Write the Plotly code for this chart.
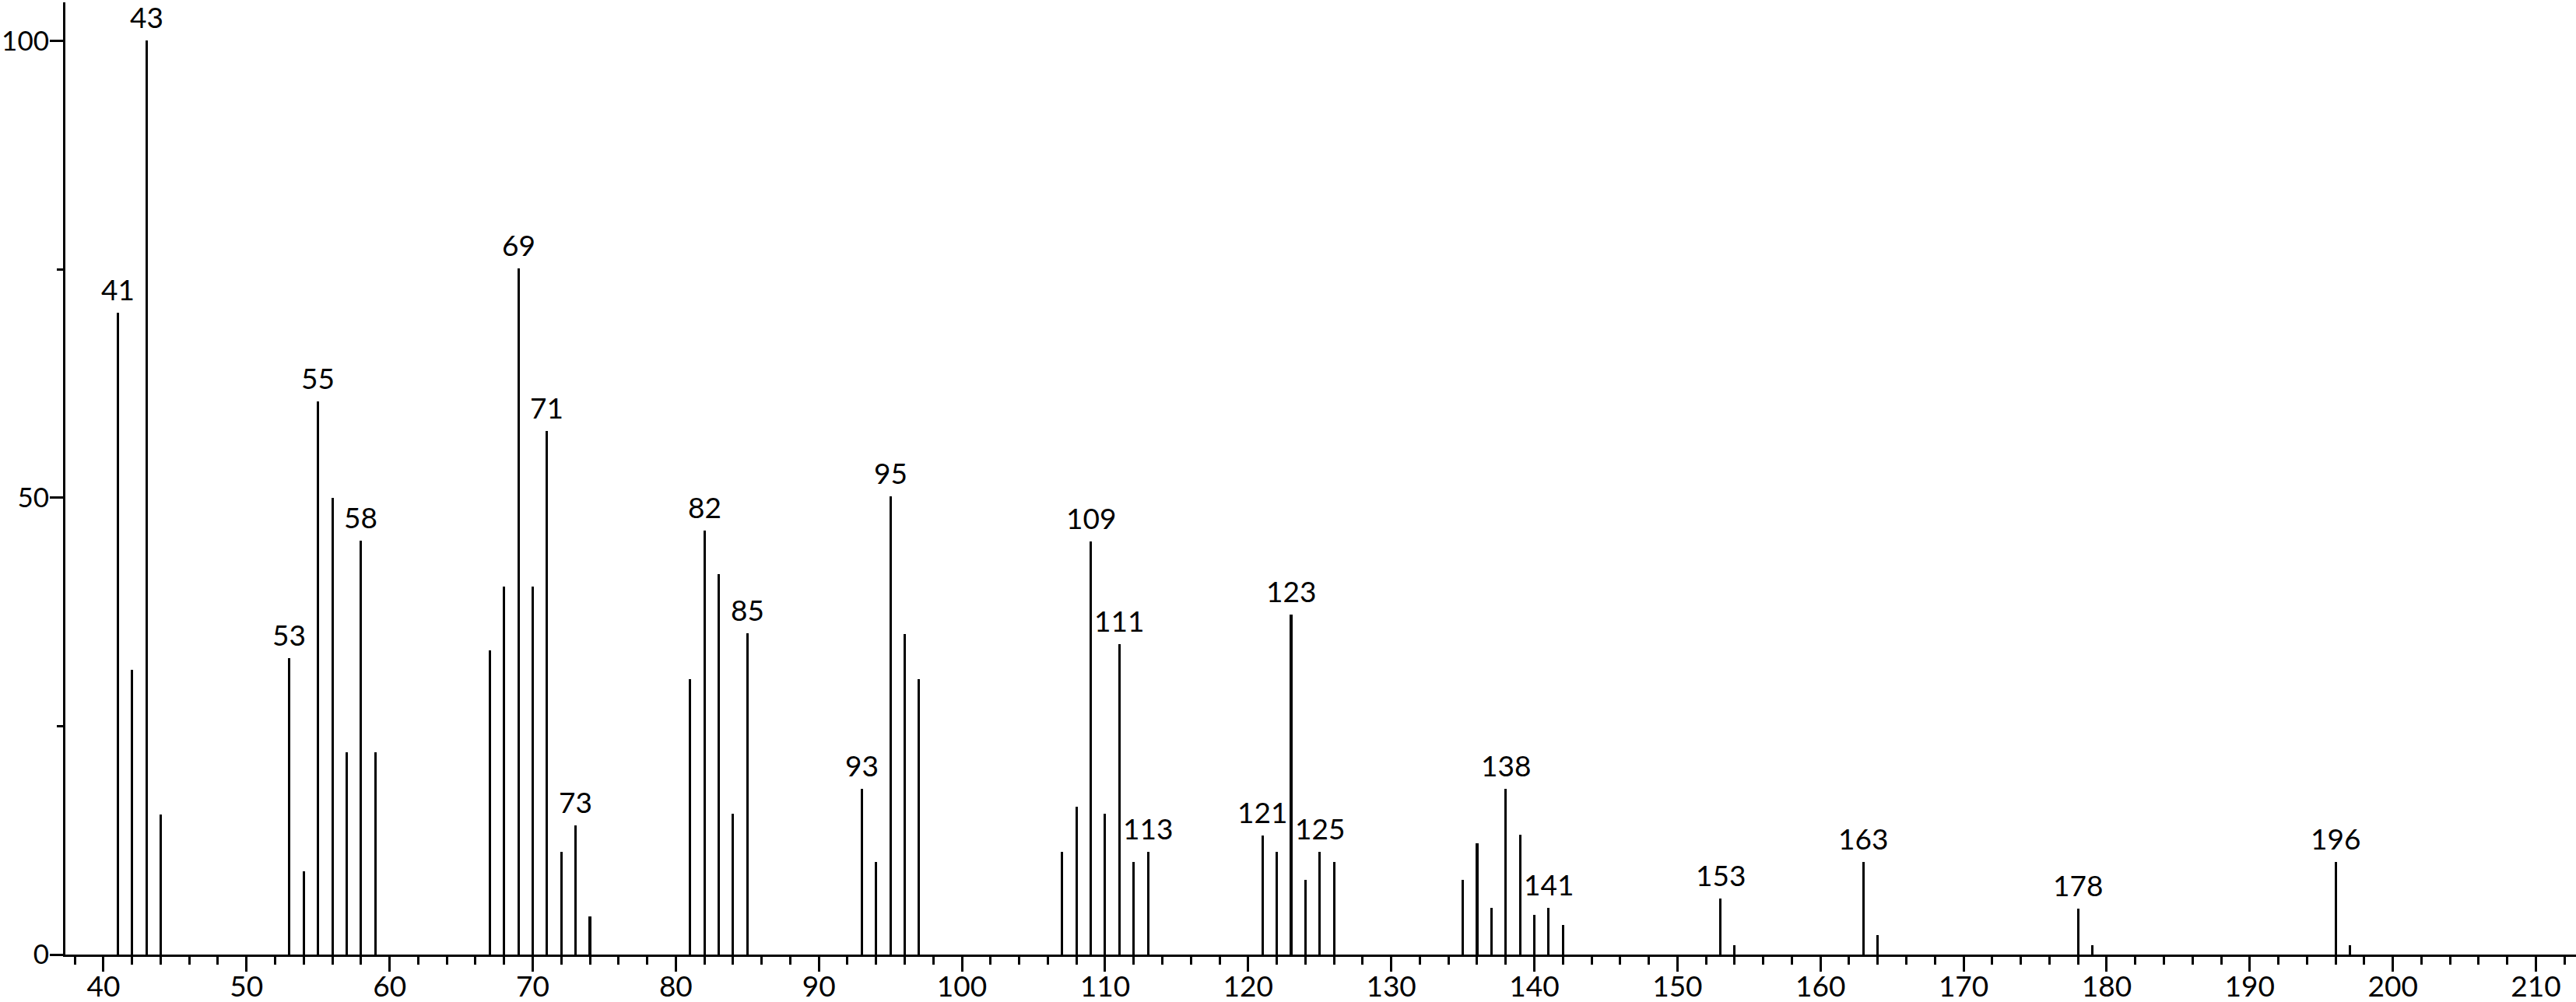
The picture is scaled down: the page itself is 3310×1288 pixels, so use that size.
import plotly.graph_objects as go

mz = [41, 42, 43, 44, 53, 54, 55, 56, 57, 58, 59,
      67, 68, 69, 70, 71, 72, 73, 74,
      81, 82, 83, 84, 85,
      93, 94, 95, 96, 97,
      107, 108, 109, 110, 111, 112, 113,
      121, 122, 123, 124, 125, 126,
      135, 136, 137, 138, 139, 140, 141, 142,
      153, 154, 163, 164, 178, 179, 196, 197]
intensity = [70.2, 31.2, 100, 15.3, 32.4, 9.1, 60.5, 50, 22.1, 45.3, 22.1,
             33.3, 40.3, 75.1, 40.3, 57.3, 11.2, 14.1, 4.2,
             30.1, 46.4, 41.6, 15.4, 35.2,
             18.1, 10.1, 50.1, 35.1, 30.1,
             11.2, 16.2, 45.2, 15.4, 34.0, 10.1, 11.2,
             13.0, 11.2, 37.2, 8.2, 11.2, 10.1,
             8.2, 12.2, 5.1, 18.1, 13.1, 4.3, 5.1, 3.2,
             6.1, 1.05, 10.1, 2.1, 5.0, 1.05, 10.1, 1.05]
labeled = [41, 43, 53, 55, 58, 69, 71, 73, 82, 85, 93, 95, 109, 111, 113,
           121, 123, 125, 138, 141, 153, 163, 178, 196]

x_ticks = list(range(40, 211, 10))
y_ticks = [0, 50, 100]

FONT = "Lato"
FS = 37

fig = go.Figure()
fig.add_trace(go.Bar(x=mz, y=intensity, width=0.17,
                     marker=dict(color="black", line=dict(width=0)),
                     showlegend=False, hoverinfo="x+y"))

lookup = dict(zip(mz, intensity))
for m in labeled:
    fig.add_annotation(x=m, y=lookup[m], text=str(m), showarrow=False,
                       xanchor="center", yanchor="bottom", yshift=6,
                       font=dict(family=FONT, size=FS, color="black"))

fig.update_layout(
    width=3310, height=1288,
    margin=dict(l=84, r=0, t=3, b=61, autoexpand=False),
    paper_bgcolor="white", plot_bgcolor="white",
    font=dict(family=FONT, size=FS, color="black"),
    bargap=0,
)
fig.update_xaxes(range=[37.34, 212.8], tickmode="array", tickvals=x_ticks,
                 ticktext=[str(v) for v in x_ticks], automargin=False,
                 ticks="outside", ticklen=19, tickwidth=3, tickcolor="black",
                 ticklabelstandoff=-12,
                 showline=True, linewidth=3, linecolor="black",
                 showgrid=False, zeroline=False,
                 minor=dict(dtick=2, tick0=0, ticks="outside", ticklen=10,
                            tickwidth=3, tickcolor="black", showgrid=False))
fig.update_yaxes(range=[0, 104.2], tickmode="array", tickvals=y_ticks,
                 ticktext=[str(v) for v in y_ticks], automargin=False,
                 tickfont=dict(family=FONT, size=35, color="black"),
                 ticks="outside", ticklen=17, tickwidth=3, tickcolor="black",
                 ticklabelstandoff=-6,
                 showline=True, linewidth=3, linecolor="black",
                 showgrid=False, zeroline=False,
                 minor=dict(dtick=25, tick0=0, ticks="outside", ticklen=8,
                            tickwidth=3, tickcolor="black", showgrid=False))

fig.write_html("out.html", config={"displayModeBar": False},
               post_script="document.body.style.margin='0';"
                           "document.body.style.overflow='hidden';")
